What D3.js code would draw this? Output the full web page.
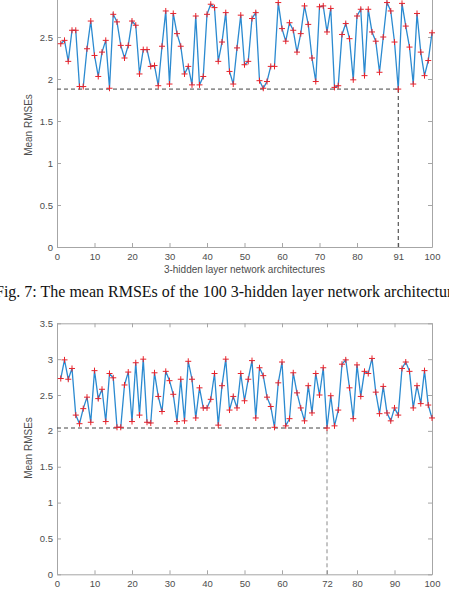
<!DOCTYPE html>
<html>
<head>
<meta charset="utf-8">
<script src="https://cdn.jsdelivr.net/npm/d3@7"></script>
<style>
  body { margin: 0; background: #fff; }
  svg { display: block; }
</style>
</head>
<body>
<div id="chart"></div>
<script>
// mean RMSE per architecture (architectures 1..100)
const rmseTop = [
  2.42, 2.46, 2.21, 2.58, 2.58, 1.91, 1.91, 2.36, 2.69, 2.28,
  2.03, 2.32, 2.46, 1.89, 2.77, 2.68, 2.40, 2.25, 2.40, 2.69,
  2.64, 2.06, 2.35, 2.35, 2.15, 2.16, 1.92, 2.39, 2.81, 1.94,
  2.78, 2.54, 2.39, 2.06, 2.15, 1.93, 2.75, 1.93, 2.03, 2.77,
  2.89, 2.85, 2.21, 2.44, 2.79, 2.09, 1.94, 2.37, 2.76, 2.17,
  2.21, 2.72, 2.79, 1.98, 1.89, 1.97, 2.15, 2.15, 2.91, 2.60,
  2.45, 2.67, 2.58, 2.32, 2.54, 2.87, 2.65, 2.25, 1.97, 2.86,
  2.87, 2.56, 2.84, 1.90, 1.92, 2.53, 2.66, 2.48, 1.99, 2.75,
  2.83, 2.04, 2.83, 2.56, 2.45, 2.08, 2.50, 2.91, 2.81, 2.44,
  1.88, 2.90, 2.63, 2.38, 1.94, 2.78, 2.32, 2.04, 2.22, 2.55
];
const rmseBottom = [
  2.73, 2.99, 2.72, 2.87, 2.22, 2.10, 2.31, 2.47, 2.12, 2.84,
  2.45, 2.58, 2.13, 2.80, 2.74, 2.05, 2.05, 2.64, 2.82, 2.13,
  2.95, 2.22, 3.00, 2.12, 2.11, 2.81, 2.48, 2.27, 2.83, 2.70,
  2.51, 2.13, 2.72, 2.14, 2.97, 2.72, 2.18, 2.60, 2.32, 2.32,
  2.44, 2.80, 2.08, 2.63, 3.00, 2.29, 2.48, 2.32, 2.80, 2.42,
  2.72, 2.98, 2.18, 2.88, 2.77, 2.47, 2.34, 2.05, 2.67, 2.96,
  2.07, 2.17, 2.81, 2.53, 2.32, 2.14, 2.63, 2.25, 2.80, 2.50,
  2.88, 2.04, 2.49, 2.07, 2.29, 2.93, 2.99, 2.60, 2.17, 2.92,
  2.48, 2.83, 2.80, 3.01, 2.54, 2.24, 2.62, 2.25, 2.14, 2.32,
  2.22, 2.87, 2.96, 2.83, 2.32, 2.63, 2.38, 2.84, 2.36, 2.18
];
const bestTop = 91;
const bestBottom = 72;

const xTicksTop = [0, 10, 20, 30, 40, 50, 60, 70, 80, 91, 100];
const xTicksBottom = [0, 10, 20, 30, 40, 50, 60, 72, 80, 90, 100];
const yTicksTop = [0, 0.5, 1, 1.5, 2, 2.5];  // the 3 tick sits above the crop
const yTicksBottom = [0, 0.5, 1, 1.5, 2, 2.5, 3, 3.5];

const xLabelTop = "3-hidden layer network architectures";
const yLabelText = "Mean RMSEs";
const captionText = "Fig. 7: The mean RMSEs of the 100 3-hidden layer network architectures";

const width = 449, height = 591;
const axisColor = "#a6a6a6";
const tickTextColor = "#4d4d4d";
const lineColor = "#2b8ad0";
const markerColor = "#e8232b";
const tickFont = "Liberation Sans, Arial, sans-serif";
const plainNum = d => String(d);  // matlab style: 1 not 1.0

const svg = d3.select("#chart").append("svg")
  .attr("width", width)
  .attr("height", height);

function drawPanel(opts) {
  const { data, best, xTicks, yTicks, yMax, top, bottom, left, right, vColor, xLabel, yLabelY } = opts;
  const points = data.map((v, i) => ({ x: i + 1, y: v }));

  const x = d3.scaleLinear().domain([0, 100]).range([left, right]);
  const y = d3.scaleLinear().domain([0, yMax]).range([bottom, top]);

  const g = svg.append("g");

  // box axes, MATLAB style ticks pointing inward
  const styleAxis = sel => {
    sel.select(".domain").attr("stroke", axisColor);
    sel.selectAll(".tick line").attr("stroke", axisColor);
    sel.selectAll(".tick text")
      .attr("fill", tickTextColor)
      .style("font-family", tickFont)
      .style("font-size", "9.5px");
  };

  g.append("g")
    .attr("transform", `translate(0,${bottom})`)
    .call(d3.axisBottom(x).tickValues(xTicks).tickFormat(plainNum)
      .tickSizeInner(-4).tickSizeOuter(0).tickPadding(6))
    .call(styleAxis);

  g.append("g")
    .attr("transform", `translate(0,${top})`)
    .call(d3.axisTop(x).tickValues(xTicks).tickSizeInner(-4).tickSizeOuter(0).tickFormat(""))
    .call(styleAxis);

  g.append("g")
    .attr("transform", `translate(${left},0)`)
    .call(d3.axisLeft(y).tickValues(yTicks).tickFormat(plainNum)
      .tickSizeInner(-4).tickSizeOuter(0).tickPadding(4))
    .call(styleAxis);

  g.append("g")
    .attr("transform", `translate(${right},0)`)
    .call(d3.axisRight(y).tickValues(yTicks).tickSizeInner(-4).tickSizeOuter(0).tickFormat(""))
    .call(styleAxis);

  // best architecture guides
  const bestVal = data[best - 1];
  g.append("line")
    .attr("x1", x(0)).attr("x2", x(best))
    .attr("y1", y(bestVal)).attr("y2", y(bestVal))
    .attr("stroke", "#444")
    .attr("stroke-width", 1)
    .attr("stroke-dasharray", "4,3");

  g.append("line")
    .attr("x1", x(best)).attr("x2", x(best))
    .attr("y1", y(0)).attr("y2", y(bestVal))
    .attr("stroke", vColor)
    .attr("stroke-width", 1)
    .attr("stroke-dasharray", "4,3");

  // series
  const line = d3.line().x(d => x(d.x)).y(d => y(d.y));
  g.append("path")
    .datum(points)
    .attr("fill", "none")
    .attr("stroke", lineColor)
    .attr("stroke-width", 1.3)
    .attr("d", line);

  g.selectAll("path.marker")
    .data(points)
    .join("path")
    .attr("class", "marker")
    .attr("transform", d => `translate(${x(d.x)},${y(d.y)})`)
    .attr("d", "M-3,0H3M0,-3V3")
    .attr("stroke", markerColor)
    .attr("stroke-width", 1);

  // labels
  g.append("text")
    .attr("transform", `translate(32,${yLabelY}) rotate(-90)`)
    .attr("text-anchor", "middle")
    .attr("fill", tickTextColor)
    .style("font-family", tickFont)
    .style("font-size", "10px")
    .text(yLabelText);

  if (xLabel) {
    g.append("text")
      .attr("x", (left + right) / 2)
      .attr("y", bottom + 26)
      .attr("text-anchor", "middle")
      .attr("fill", tickTextColor)
      .style("font-family", tickFont)
      .style("font-size", "10px")
      .text(xLabel);
  }
}

drawPanel({
  data: rmseTop, best: bestTop, xTicks: xTicksTop, yTicks: yTicksTop, yMax: 3,
  top: -5, bottom: 247, left: 57, right: 432, vColor: "#333",
  xLabel: xLabelTop, yLabelY: 125
});

drawPanel({
  data: rmseBottom, best: bestBottom, xTicks: xTicksBottom, yTicks: yTicksBottom, yMax: 3.5,
  top: 323.3, bottom: 574.3, left: 57, right: 432, vColor: "#8a8a8a",
  xLabel: null, yLabelY: 448
});

// caption (cut at both sides in the source crop)
svg.append("text")
  .attr("x", -5)
  .attr("y", 297)
  .attr("fill", "#111")
  .style("font-family", "Liberation Serif, Times New Roman, serif")
  .style("font-size", "16px")
  .text(captionText);
</script>
</body>
</html>
